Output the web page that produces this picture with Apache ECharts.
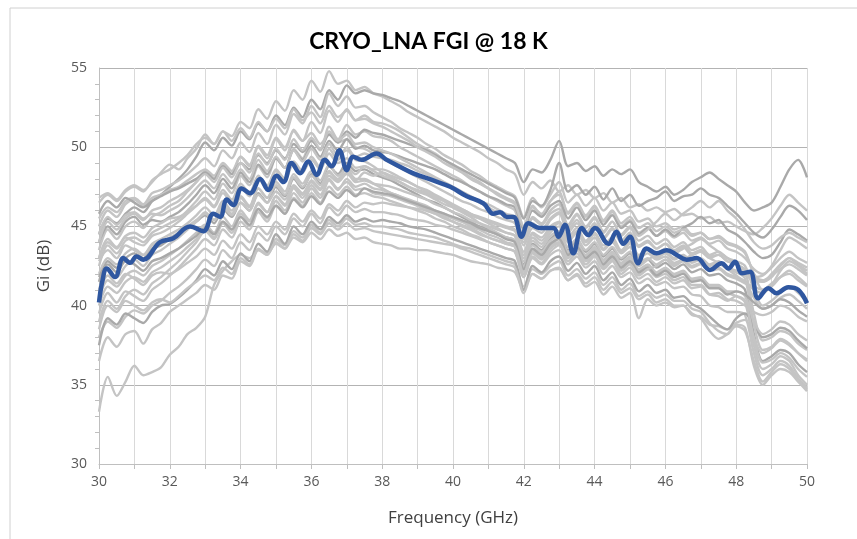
<!DOCTYPE html>
<html>
<head>
<meta charset="utf-8">
<script src="https://cdn.jsdelivr.net/npm/echarts@6/dist/echarts.min.js"></script>
<style>
  html, body { margin: 0; padding: 0; background: #fff; }
  #main { width: 857px; height: 539px; }
</style>
</head>
<body>
<div id="main"></div>
<script>
// frequency grid (GHz) shared by the grey traces
var freqs = [30, 30.25, 30.5, 30.75, 31, 31.25, 31.5, 31.75, 32, 32.25, 32.5, 32.75, 33, 33.25, 33.5, 33.75,
  34, 34.25, 34.5, 34.75, 35, 35.25, 35.5, 35.75, 36, 36.25, 36.5, 36.75, 37, 37.25, 37.5, 37.75,
  38, 38.25, 38.5, 38.75, 39, 39.25, 39.5, 39.75, 40, 40.25, 40.5, 40.75, 41, 41.25, 41.5, 41.75,
  42, 42.25, 42.5, 42.75, 43, 43.25, 43.5, 43.75, 44, 44.25, 44.5, 44.75, 45, 45.25, 45.5, 45.75,
  46, 46.25, 46.5, 46.75, 47, 47.25, 47.5, 47.75, 48, 48.25, 48.5, 48.75, 49, 49.25, 49.5, 49.75,
  50];

// grey traces: Gi (dB) of the individual LNAs
var g1 = [46.5,47.0,46.6,47.2, 47.5,47.2,47.9,48.3, 48.6,49.0,49.5,50.2, 50.6,50.2,51.0,50.7,
  51.6,51.2,52.4,51.8, 52.9,52.3,53.6,53.0, 54.2,53.5,54.8,54.0, 54.2,53.6,53.8,53.4,
  53.2,52.9,52.6,52.2, 51.9,51.6,51.3,51.0, 50.6,50.3,50.0,49.7, 49.3,49.0,48.6,48.3,
  47.0,47.8,47.4,47.9, 47.2,47.6,47.0,47.3, 46.8,47.1,46.5,46.8, 46.2,46.4,46.0,46.2,
  45.9,46.1,45.7,45.8, 45.5,45.6,45.2,45.3, 45.0,44.7,44.5,44.9, 45.5,46.3,47.0,46.5,
  46.0];
var g2 = [44.5,45.5,45.2,45.8, 46.2,45.9,46.6,47.0, 47.5,48.0,48.6,49.4, 50.3,49.8,50.6,50.1,
  51.0,50.5,51.5,51.0, 52.0,51.4,52.5,51.9, 53.0,52.4,53.6,53.0, 53.9,53.4,53.6,53.4,
  53.3,53.1,52.9,52.6, 52.3,52.0,51.7,51.4, 51.1,50.8,50.5,50.2, 49.9,49.6,49.3,49.0,
  47.8,48.6,48.4,49.2, 50.4,48.8,49.0,48.5, 48.8,48.2,48.6,48.3, 48.6,47.8,47.5,47.2,
  47.5,47.0,47.3,47.8, 48.1,48.4,48.0,47.6, 47.2,46.5,46.0,46.2, 46.5,47.5,48.6,49.2,
  48.1];
var g3 = [45.5,46.2,45.9,46.6, 46.8,46.4,47.1,47.3, 47.6,47.9,48.3,48.8, 49.3,48.8,49.8,49.3,
  50.3,49.7,50.9,50.2, 51.4,50.8,52.1,51.5, 52.6,51.9,53.4,52.6, 53.2,52.5,52.6,52.2,
  51.9,51.6,51.2,50.9, 50.6,50.2,49.9,49.5, 49.2,48.9,48.5,48.2, 47.8,47.5,47.2,46.9,
  45.6,46.8,46.2,47.0, 47.8,46.5,47.0,46.3, 46.8,46.0,46.5,45.8, 46.0,45.3,45.5,45.0,
  45.2,44.8,45.0,44.5, 44.6,44.2,44.4,44.0, 43.8,43.4,42.0,41.5, 41.8,42.5,43.0,42.6,
  42.2];
var g4 = [43.5,44.8,44.2,45.0, 45.3,44.9,45.6,45.9, 46.3,46.6,47.2,47.8, 48.5,48.0,48.9,48.3,
  49.4,48.8,50.0,49.3, 50.5,49.8,51.1,50.4, 51.6,50.9,52.3,51.6, 52.4,51.7,52.0,51.6,
  51.5,51.3,51.0,50.6, 50.2,49.9,49.6,49.2, 48.8,48.5,48.1,47.8, 47.4,47.1,46.8,46.5,
  45.0,46.3,45.7,46.6, 47.2,45.8,46.4,45.6, 46.2,45.3,45.9,45.0, 45.4,44.6,44.9,44.4,
  44.7,44.3,44.6,44.1, 44.3,43.9,44.1,43.6, 43.4,43.0,42.3,42.0, 42.4,43.0,43.4,43.0,
  42.7];
var g5 = [42.5,43.8,43.3,44.1, 44.3,44.0,44.6,44.9, 45.2,45.5,46.0,46.6, 47.2,46.7,47.7,47.1,
  48.2,47.6,48.8,48.1, 49.3,48.7,49.9,49.3, 50.5,49.8,51.3,50.5, 51.4,50.8,51.0,50.7,
  50.6,50.4,50.0,49.7, 49.4,49.1,48.8,48.5, 48.2,47.9,47.5,47.2, 46.9,46.6,46.3,46.0,
  44.3,45.6,45.2,46.0, 46.4,45.1,45.8,45.0, 45.6,44.7,45.3,44.4, 44.9,44.1,44.4,43.9,
  44.2,43.7,44.0,43.5, 43.7,43.2,43.4,43.0, 42.8,42.5,41.0,40.0, 40.3,40.8,41.2,40.8,
  40.2];
var g6 = [45.0,46.0,45.6,46.4, 46.7,46.3,46.8,47.0, 47.3,47.5,47.9,48.3, 48.6,48.2,49.0,48.5,
  49.4,48.9,50.1,49.5, 50.6,50.0,51.0,50.4, 50.9,50.2,50.8,50.3, 50.5,50.0,49.9,49.6,
  49.3,49.0,48.7,48.4, 48.1,47.8,47.5,47.2, 46.9,46.6,46.4,46.1, 45.9,45.6,45.4,45.2,
  43.8,44.9,44.6,45.4, 45.8,44.6,45.2,44.5, 45.1,44.2,44.8,44.0, 44.5,43.7,44.0,43.6,
  43.9,43.4,43.7,43.2, 43.4,43.0,43.2,42.8, 42.6,42.3,41.8,41.6, 41.9,42.3,42.6,42.3,
  41.9];
var g7 = [44.0,45.0,44.5,45.3, 45.6,45.1,45.4,45.3, 45.6,45.9,46.4,47.0, 47.6,47.1,48.0,47.4,
  48.4,47.8,48.9,48.3, 49.3,48.7,49.8,49.2, 50.1,49.4,50.4,49.8, 50.5,49.9,50.1,49.8,
  49.7,49.6,49.4,49.2, 49.0,48.8,48.6,48.3, 48.0,47.8,47.5,47.2, 46.9,46.7,46.4,46.2,
  44.8,46.0,45.6,46.3, 46.6,45.5,46.2,45.4, 46.0,45.1,45.7,44.9, 45.3,44.5,44.9,44.4,
  44.8,44.4,44.9,45.2, 45.6,45.2,45.4,44.8, 44.5,44.0,43.4,43.0, 43.2,44.0,44.8,44.5,
  44.1];
var g8 = [43.0,44.2,43.7,44.4, 44.6,44.3,44.9,45.2, 45.5,45.6,45.9,46.3, 46.7,46.2,47.1,46.5,
  47.5,46.9,48.0,47.4, 48.5,47.9,49.0,48.4, 49.4,48.7,49.9,49.2, 50.0,49.4,49.6,49.4,
  49.3,49.2,49.0,48.8, 48.5,48.3,48.0,47.7, 47.4,47.1,46.8,46.5, 46.2,45.9,45.7,45.4,
  44.0,45.2,44.8,45.5, 45.9,44.8,45.4,44.6, 45.2,44.3,44.9,44.1, 44.6,43.8,44.1,43.6,
  43.9,43.5,43.8,43.3, 43.5,43.1,43.2,42.8, 42.6,42.2,39.5,37.8, 38.0,38.4,38.2,37.6,
  37.2];
var g9 = [41.5,42.8,42.4,43.0, 43.3,43.0,43.6,43.8, 44.2,44.5,44.9,45.3, 45.7,45.2,46.1,45.6,
  46.5,46.0,47.1,46.5, 47.5,46.9,48.0,47.4, 48.3,47.7,48.8,48.3, 49.0,48.5,48.6,48.3,
  48.1,47.9,47.6,47.3, 47.0,46.7,46.5,46.2, 45.9,45.6,45.3,45.0, 44.8,44.5,44.3,44.1,
  42.6,43.9,43.5,44.2, 44.6,43.5,44.1,43.4, 43.9,43.1,43.6,42.9, 43.3,42.6,42.9,42.4,
  42.7,42.3,42.6,42.1, 42.3,41.9,42.0,41.6, 41.4,41.0,38.2,36.5, 36.8,37.2,37.0,36.3,
  35.8];
var g10 = [40.0,41.2,40.8,41.5, 41.8,41.5,42.1,42.4, 42.8,43.2,43.7,44.2, 44.7,44.2,45.2,44.6,
  45.6,45.0,46.1,45.5, 46.6,46.0,47.1,46.5, 47.4,46.8,47.9,47.3, 48.0,47.5,47.7,47.4,
  47.3,47.1,46.9,46.7, 46.5,46.3,46.0,45.8, 45.5,45.3,45.0,44.8, 44.5,44.3,44.0,43.8,
  42.2,43.5,43.1,43.8, 44.2,43.1,43.7,43.0, 43.5,42.7,43.2,42.5, 42.9,42.2,42.5,42.0,
  42.3,41.9,42.1,41.6, 41.7,41.2,41.2,40.8, 40.6,40.2,37.5,36.0, 36.3,36.8,36.5,35.6,
  35.0];
var g11 = [38.0,39.0,38.6,39.3, 39.7,39.5,40.0,40.3, 40.8,41.2,41.7,42.3, 42.9,42.5,43.5,43.0,
  44.0,43.5,44.6,44.1, 45.0,44.5,45.5,45.0, 45.8,45.2,46.2,45.7, 46.3,45.9,46.1,45.9,
  45.9,45.8,45.7,45.5, 45.4,45.3,45.1,45.0, 44.8,44.6,44.4,44.2, 44.0,43.8,43.6,43.4,
  41.8,43.0,42.6,43.2, 43.5,42.6,43.1,42.4, 42.8,42.0,42.5,41.8, 42.1,41.4,41.7,41.3,
  41.5,41.1,41.2,40.7, 40.6,40.0,39.9,39.6, 39.6,39.4,37.0,35.6, 36.0,36.5,36.2,35.4,
  34.8];
var g12 = [33.3,35.5,34.3,35.2, 36.2,35.6,35.8,36.1, 36.9,37.4,38.2,38.6, 39.3,41.3,42.2,42.8,
  43.2,43.0,43.5,43.3, 43.9,43.6,44.3,44.0, 44.6,44.2,44.8,44.4, 44.6,44.2,44.3,44.0,
  43.9,43.8,43.6,43.6, 43.5,43.5,43.4,43.3, 43.2,43.0,42.8,42.7, 42.6,42.4,42.3,42.1,
  41.0,42.0,41.7,42.2, 42.3,41.6,41.9,41.2, 41.5,40.7,41.2,40.5, 40.8,39.2,40.4,40.0,
  40.2,39.9,40.0,39.4, 39.3,38.8,38.7,38.5, 38.8,38.6,36.2,35.0, 35.6,36.0,35.8,35.2,
  34.6];
var g13 = [36.5,38.0,37.4,38.2, 38.4,37.6,38.5,38.9, 39.6,40.0,40.4,40.8, 41.3,41.0,41.9,41.7,
  42.8,42.5,43.5,43.2, 44.2,43.8,44.7,44.3, 45.1,44.6,45.4,45.0, 45.5,45.1,45.2,45.0,
  45.0,44.9,44.8,44.6, 44.5,44.4,44.3,44.1, 43.9,43.7,43.6,43.4, 43.2,43.0,42.8,42.6,
  41.2,42.3,42.0,42.5, 42.8,41.9,42.3,41.7, 42.1,41.3,41.8,41.0, 41.4,40.6,40.9,40.5,
  40.7,40.3,40.3,39.8, 39.6,38.9,38.4,38.2, 38.9,39.1,37.8,36.4, 36.6,37.0,36.7,36.0,
  35.5];
var g14 = [37.5,39.2,38.8,39.5, 39.2,38.9,39.6,40.0, 40.1,40.5,41.0,41.6, 42.3,41.9,42.8,42.3,
  43.3,42.8,43.9,43.4, 44.5,43.9,45.0,44.5, 45.3,44.8,45.6,45.2, 45.7,45.3,45.5,45.3,
  45.4,45.3,45.2,45.0, 44.9,44.8,44.6,44.4, 44.2,44.0,43.8,43.6, 43.4,43.2,43.0,42.8,
  41.0,42.5,42.1,42.8, 43.1,42.2,42.7,42.0, 42.5,41.6,42.1,41.3, 41.7,40.9,41.3,40.8,
  41.0,40.5,40.6,40.1, 39.8,39.3,38.8,38.5, 39.2,39.5,38.8,38.0, 38.2,38.6,38.4,37.8,
  37.3];
var g15 = [39.5,40.8,40.2,40.9, 40.6,40.3,41.0,41.4, 41.9,42.4,43.0,43.6, 44.2,43.8,44.8,44.3,
  45.3,44.8,45.9,45.3, 46.3,45.8,46.8,46.3, 47.1,46.5,47.5,47.0, 47.5,47.0,47.1,46.9,
  46.8,46.6,46.4,46.2, 46.0,45.8,45.5,45.3, 45.0,44.8,44.5,44.3, 44.0,43.8,43.6,43.4,
  41.8,43.1,42.7,43.4, 43.8,42.8,43.3,42.6, 43.1,42.3,42.8,42.0, 42.4,41.7,42.0,41.5,
  41.8,41.4,41.6,41.1, 41.2,40.7,40.8,40.4, 40.3,40.0,39.6,39.4, 39.6,40.0,39.8,39.3,
  39.0];
var g16 = [44.5,45.6,45.1,45.7, 45.9,45.5,45.8,45.7, 46.0,46.3,46.8,47.4, 47.9,47.4,48.3,47.7,
  48.6,48.0,49.2,48.5, 49.4,48.7,49.8,49.1, 49.9,49.2,50.2,49.5, 49.8,49.2,49.1,48.8,
  48.4,48.1,47.8,47.5, 47.2,47.0,46.7,46.4, 46.2,46.0,45.7,45.5, 45.3,45.1,44.9,44.7,
  43.4,44.6,44.3,45.0, 45.3,44.3,44.9,44.1, 44.6,43.8,44.3,43.5, 44.0,43.2,43.5,43.1,
  43.4,43.0,43.2,42.8, 43.0,42.6,42.8,42.4, 42.2,41.9,41.6,41.5, 42.0,42.6,43.0,42.7,
  42.4];
var g17 = [43.0,44.0,43.6,44.3, 44.0,43.8,44.4,44.6, 44.9,45.3,45.8,46.3, 46.8,46.3,47.3,46.7,
  47.7,47.1,48.2,47.6, 48.6,48.0,49.1,48.5, 49.2,48.6,49.6,49.0, 49.3,48.7,48.8,48.5,
  48.2,48.0,47.8,47.5, 47.3,47.1,46.8,46.6, 46.3,46.1,45.8,45.6, 45.4,45.2,45.0,44.8,
  43.2,44.5,44.1,44.8, 45.2,44.1,44.7,44.0, 44.5,43.6,44.2,43.4, 43.9,43.1,43.5,43.0,
  43.3,42.9,43.2,42.7, 42.9,42.5,42.7,42.3, 42.1,41.7,38.8,37.2, 37.4,37.9,37.6,37.0,
  36.5];
var g18 = [45.8,46.6,46.2,46.8, 46.5,46.2,46.6,46.9, 47.2,47.4,47.7,48.0, 48.4,48.0,48.8,48.3,
  49.0,48.6,49.5,49.0, 49.8,49.3,50.2,49.7, 50.4,49.9,50.8,50.3, 51.0,50.6,51.1,50.9,
  50.8,50.6,50.4,50.2, 50.0,49.8,49.5,49.2, 48.9,48.6,48.3,48.0, 47.7,47.4,47.1,46.8,
  45.5,46.6,46.3,47.3, 49.0,47.2,47.6,47.0, 47.5,46.7,47.4,46.6, 47.0,46.3,46.6,46.8,
  47.2,46.6,46.9,47.0, 47.4,47.0,46.8,46.3, 45.8,45.2,44.6,44.3, 44.8,45.6,46.3,46.0,
  45.4];
var g19 = [42.0,43.0,42.6,43.3, 43.6,43.2,43.8,44.0, 44.3,44.6,45.0,45.4, 45.8,45.4,46.2,45.7,
  46.5,46.0,47.0,46.5, 47.2,46.7,47.6,47.1, 47.8,47.3,48.2,47.8, 48.3,47.9,48.4,48.2,
  48.4,48.2,48.0,47.8, 47.5,47.3,47.0,46.7, 46.4,46.1,45.8,45.5, 45.2,44.9,44.6,44.4,
  42.8,44.1,43.7,44.4, 44.7,43.7,44.2,43.5, 44.0,43.2,43.7,43.0, 43.4,42.7,43.0,42.6,
  42.9,42.5,42.8,42.4, 42.6,42.2,42.3,41.9, 41.7,41.4,41.2,41.0, 41.4,41.8,42.0,41.6,
  41.2];
var g20 = [46.8,47.1,46.7,47.3, 47.6,47.3,47.8,48.4, 48.9,48.6,49.3,49.9, 50.8,50.2,51.0,50.4,
  51.2,50.6,51.6,51.0, 51.8,51.2,52.4,51.7, 52.2,51.5,52.6,51.9, 52.3,51.7,51.8,51.5,
  51.3,51.0,50.7,50.4, 50.0,49.7,49.4,49.0, 48.7,48.4,48.0,47.7, 47.4,47.0,46.7,46.4,
  45.0,46.2,45.8,46.6, 47.0,45.9,46.5,45.7, 46.3,45.4,46.0,45.2, 45.6,44.9,45.2,44.7,
  45.0,44.6,44.8,44.4, 44.6,44.2,44.3,43.9, 43.7,43.3,42.0,41.0, 41.2,41.8,42.2,41.8,
  41.3];
var g21 = [40.5,41.6,41.2,41.9, 42.2,41.9,42.5,42.8, 43.2,43.6,44.1,44.6, 45.1,44.6,45.6,45.0,
  46.0,45.4,46.5,45.9, 46.9,46.3,47.4,46.8, 47.6,47.0,48.0,47.4, 47.8,47.3,47.4,47.1,
  47.0,46.9,46.7,46.5, 46.3,46.1,45.9,45.7, 45.5,45.3,45.1,44.9, 44.7,44.5,44.3,44.1,
  42.4,43.8,43.4,44.1, 44.4,43.4,43.9,43.2, 43.7,42.9,43.4,42.7, 43.1,42.5,42.9,43.2,
  43.6,43.3,43.6,43.9, 44.2,43.8,43.4,43.0, 42.6,42.1,41.8,41.9, 42.5,43.5,44.3,44.0,
  43.6];
var g22 = [38.5,40.0,39.6,40.3, 40.0,39.7,40.2,40.4, 40.2,40.6,41.1,41.5, 41.9,41.6,42.4,42.0,
  43.0,42.6,43.6,43.2, 44.0,43.6,44.5,44.1, 44.9,44.5,45.2,44.8, 45.2,44.8,44.9,44.7,
  44.6,44.5,44.4,44.3, 44.2,44.1,44.0,43.9, 43.8,43.6,43.4,43.2, 43.0,42.8,42.6,42.4,
  40.8,42.0,41.7,42.2, 42.4,41.6,42.0,41.4, 41.8,41.0,41.5,40.8, 41.1,40.4,40.7,40.2,
  40.4,40.0,40.0,39.5, 39.2,38.4,37.9,38.2, 38.7,38.4,36.5,35.2, 35.8,36.3,36.0,35.3,
  34.7];
var g23 = [41.0,42.3,41.8,42.5, 42.9,42.5,43.2,43.5, 43.9,44.3,44.8,45.3, 45.9,45.4,46.4,45.8,
  46.8,46.2,47.4,46.8, 47.8,47.2,48.3,47.7, 48.5,47.9,48.9,48.2, 48.6,48.0,48.0,47.7,
  47.4,47.1,46.9,46.6, 46.3,46.0,45.8,45.5, 45.3,45.0,44.8,44.5, 44.3,44.1,43.9,43.7,
  42.0,43.4,43.0,43.7, 44.0,43.1,43.5,42.9, 43.3,42.5,43.0,42.3, 42.7,42.0,42.3,41.8,
  42.0,41.6,41.8,41.3, 41.3,40.7,40.6,40.3, 40.6,40.3,38.0,37.0, 37.3,37.8,37.5,37.0,
  36.6];
var g24 = [44.0,45.3,44.8,45.5, 45.8,45.4,46.0,46.2, 46.6,46.9,47.3,47.8, 48.3,47.8,48.7,48.1,
  49.0,48.4,49.6,48.9, 49.9,49.2,50.5,49.8, 50.6,49.9,51.0,50.4, 50.8,50.2,50.3,50.0,
  49.8,49.6,49.3,49.0, 48.7,48.4,48.1,47.8, 47.5,47.2,46.9,46.6, 46.4,46.1,45.8,45.6,
  44.2,45.5,45.1,45.8, 46.1,45.0,45.7,44.9, 45.5,44.6,45.3,44.5, 45.0,44.4,44.8,45.3,
  45.8,45.4,45.8,46.2, 46.6,46.2,46.6,46.0, 45.5,44.8,44.0,43.6, 43.8,44.3,44.6,44.3,
  44.0];
var g25 = [42.8,43.5,43.0,43.8, 43.5,43.2,43.9,44.2, 44.5,44.8,45.2,45.7, 46.2,45.7,46.6,46.0,
  46.9,46.3,47.4,46.8, 47.6,47.0,48.1,47.5, 48.2,47.6,48.5,47.9, 48.4,47.8,47.9,47.7,
  47.6,47.5,47.3,47.1, 46.9,46.7,46.4,46.2, 45.9,45.7,45.4,45.2, 45.0,44.8,44.6,44.4,
  43.0,44.3,43.9,44.6, 45.0,44.0,44.6,43.8, 44.3,43.5,44.0,43.3, 43.7,43.0,43.3,42.9,
  43.1,42.7,42.9,42.5, 42.7,42.3,42.4,42.0, 41.8,41.5,40.5,39.8, 40.0,40.5,40.7,40.3,
  39.8];
var g26 = [39.0,40.3,39.8,40.6, 41.0,40.7,41.4,41.8, 42.3,42.8,43.4,44.0, 44.7,44.3,45.3,44.8,
  45.8,45.3,46.4,45.9, 46.9,46.4,47.5,47.0, 47.9,47.4,48.4,48.0, 48.7,48.3,48.8,48.6,
  48.6,48.4,48.1,47.8, 47.5,47.2,46.9,46.6, 46.2,45.9,45.6,45.2, 44.9,44.6,44.3,44.0,
  42.5,43.6,43.3,43.9, 44.3,43.3,43.8,43.1, 43.6,42.8,43.3,42.6, 43.0,42.3,42.6,42.1,
  42.4,42.0,42.2,41.7, 41.8,41.3,41.3,40.9, 40.9,40.6,39.0,38.2, 38.5,39.0,38.8,38.2,
  37.8];
var g27 = [41.8,42.6,42.1,42.8, 42.6,42.2,42.8,43.0, 43.3,43.6,44.0,44.4, 44.9,44.5,45.3,44.8,
  45.6,45.1,46.1,45.6, 46.3,45.8,46.7,46.2, 46.9,46.4,47.2,46.8, 47.3,46.9,47.4,47.2,
  47.1,47.0,46.8,46.6, 46.4,46.2,46.0,45.8, 45.6,45.4,45.2,44.9, 44.7,44.5,44.2,44.0,
  42.3,43.6,43.2,43.9, 44.2,43.2,43.7,43.0, 43.4,42.6,43.1,42.4, 42.8,42.1,42.4,41.9,
  42.2,41.8,42.0,41.5, 41.6,41.1,41.1,40.7, 40.9,40.7,40.2,39.8, 40.0,40.4,40.2,39.7,
  39.3];
var g28 = [40.8,41.9,41.4,42.0, 41.7,41.3,41.9,42.1, 42.0,42.3,42.7,43.1, 43.6,43.2,44.1,43.6,
  44.5,44.0,45.0,44.5, 45.3,44.8,45.8,45.3, 46.0,45.5,46.4,46.0, 46.6,46.2,46.5,46.4,
  46.5,46.4,46.3,46.2, 46.1,46.0,45.8,45.6, 45.3,45.1,44.9,44.6, 44.3,44.1,43.9,43.7,
  42.0,43.3,42.9,43.6, 43.9,43.0,43.5,42.8, 43.2,42.4,42.9,42.2, 42.6,41.9,42.3,42.5,
  42.9,42.6,42.9,43.2, 43.5,43.0,42.7,42.3, 41.9,41.5,41.0,40.8, 41.3,42.2,42.8,42.5,
  42.0];

var greyTraces = [g1, g2, g3, g4, g5, g6, g7, g8, g9, g10, g11, g12, g13, g14,
  g15, g16, g17, g18, g19, g20, g21, g22, g23, g24, g25, g26, g27, g28];
var darkTraces = [1, 6, 8, 17, 13, 26]; // a few drawn in a darker grey

// highlighted (blue) trace, read at its own frequencies
var blueFreq = [30.0, 30.1, 30.22, 30.45, 30.69, 30.88, 31.06, 31.25, 31.72, 32.1,
  32.57, 32.95, 33.23, 33.42, 33.61, 33.79, 34.03, 34.27, 34.55, 34.78,
  35.02, 35.21, 35.44, 35.68, 35.91, 36.15, 36.38, 36.57, 36.79, 37.0,
  37.18, 37.42, 37.84, 38.13, 38.5, 38.88, 39.44, 39.92, 40.39, 40.86,
  41.14, 41.33, 41.52, 41.71, 41.94, 42.13, 42.46, 42.84, 42.98, 43.16,
  43.4, 43.64, 43.82, 44.01, 44.39, 44.62, 44.81, 45.0, 45.23, 45.47,
  45.75, 46.04, 46.32, 46.6, 46.88, 47.26, 47.59, 47.78, 47.97, 48.16,
  48.39, 48.62, 48.91, 49.14, 49.47, 49.75, 50.0];
var blueGain = [40.2, 41.6, 42.35, 41.8, 43.0, 42.7, 43.1, 42.9, 44.0, 44.25,
  45.0, 44.7, 45.8, 45.6, 46.7, 46.35, 47.4, 47.1, 48.0, 47.3,
  48.2, 47.8, 49.0, 48.35, 49.1, 48.25, 49.2, 48.8, 49.8, 48.55,
  49.4, 49.2, 49.6, 49.2, 48.77, 48.35, 47.9, 47.5, 46.9, 46.45,
  45.8, 45.9, 45.6, 45.6, 44.35, 45.2, 44.9, 44.9, 44.35, 45.1,
  43.3, 44.9, 44.45, 44.9, 43.9, 44.67, 43.9, 44.35, 42.67, 43.6,
  43.3, 43.5, 43.2, 42.9, 43.0, 42.25, 42.67, 42.35, 42.77, 42.04,
  42.14, 40.46, 41.1, 40.78, 41.16, 41.0, 40.15];

var series = greyTraces.map(function (tr, k) {
  return {
    type: 'line',
    data: freqs.map(function (f, i) { return [f, tr[i]]; }),
    showSymbol: false,
    smooth: 0.3,
    silent: true,
    lineStyle: { width: 2.4, color: darkTraces.indexOf(k) >= 0 ? '#a9a9a9' : '#c4c4c4' }
  };
});
series.push({
  type: 'line',
  data: blueFreq.map(function (f, i) { return [f, blueGain[i]]; }),
  showSymbol: false,
  smooth: 0.4,
  lineStyle: { width: 4.5, color: '#2f57a0' },
  z: 5
});

var chart = echarts.init(document.getElementById('main'));
chart.setOption({
  animation: false,
  backgroundColor: '#fff',
  graphic: [{
    type: 'rect',
    shape: { x: 10, y: 8, width: 900, height: 600 },
    style: { fill: 'none', stroke: '#d0d0d0', lineWidth: 1 },
    silent: true
  }],
  title: {
    text: 'CRYO_LNA FGI @ 18 K',
    left: 'center',
    top: 25,
    textStyle: { fontFamily: 'Lato', fontWeight: 'bold', fontSize: 23, color: '#000' }
  },
  grid: { left: 99, right: 50, top: 68, bottom: 75 },
  xAxis: {
    type: 'value',
    min: 30, max: 50, interval: 1,
    name: 'Frequency (GHz)',
    nameLocation: 'middle',
    nameGap: 46,
    nameTextStyle: { fontFamily: 'Open Sans', fontSize: 17, color: '#404040' },
    axisLine: { lineStyle: { color: '#bfbfbf' } },
    axisTick: { length: 5, lineStyle: { color: '#bfbfbf' } },
    axisLabel: {
      margin: 11, fontFamily: 'Open Sans', fontSize: 14, color: '#595959',
      formatter: function (v) { return v % 2 === 0 ? String(v) : ''; }
    },
    splitLine: { show: true, lineStyle: { color: '#d9d9d9' } }
  },
  yAxis: {
    type: 'value',
    min: 30, max: 55, interval: 5,
    name: 'Gi (dB)',
    nameLocation: 'middle',
    nameGap: 46,
    nameTextStyle: { fontFamily: 'Open Sans', fontSize: 17, color: '#404040' },
    axisLine: { show: true, lineStyle: { color: '#bfbfbf' } },
    axisTick: { show: false },
    minorTick: { show: true, splitNumber: 5, length: 4, lineStyle: { color: '#bfbfbf' } },
    axisLabel: { margin: 12, fontFamily: 'Open Sans', fontSize: 14, color: '#595959' },
    splitLine: { show: true, lineStyle: { color: '#b3b3b3' } }
  },
  series: series
});
</script>
</body>
</html>
